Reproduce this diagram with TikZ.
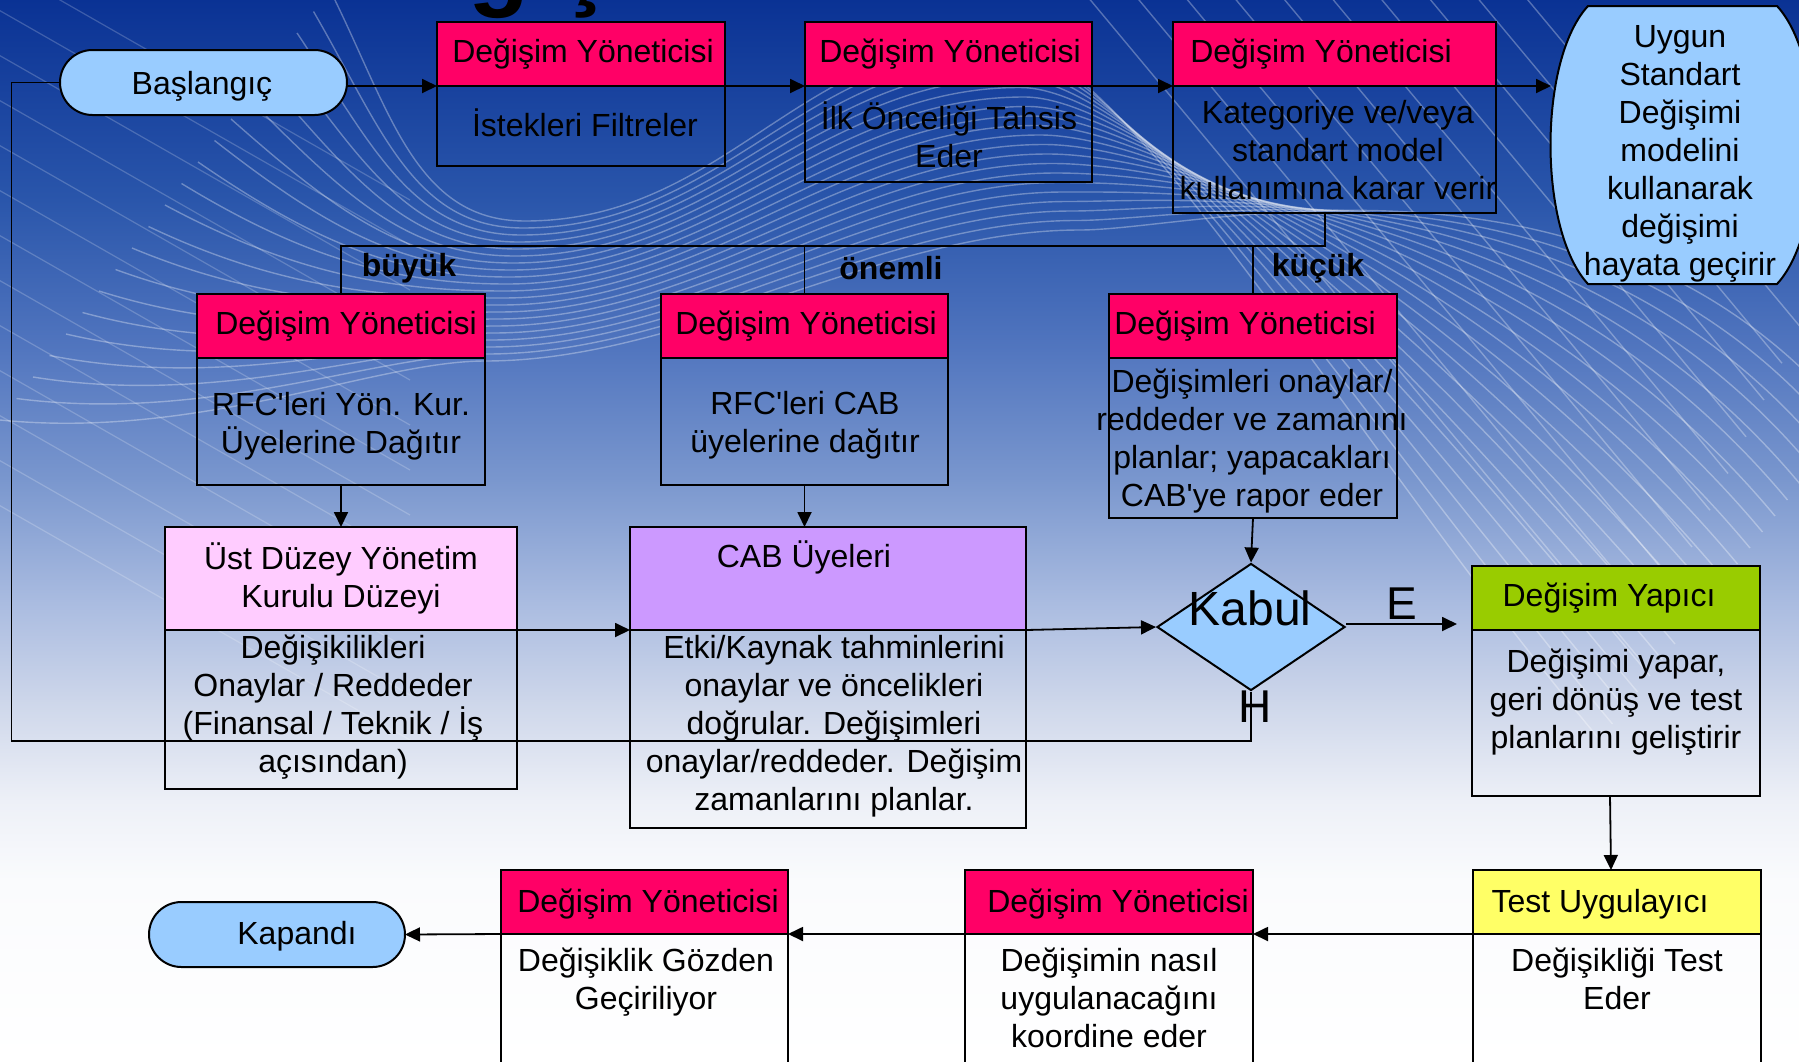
\documentclass[tikz,border=0pt]{standalone}
\usepackage{fontspec}
\setmainfont{Liberation Sans}
\usetikzlibrary{arrows.meta,fit,shapes.geometric,calc}

\definecolor{hdrred}{HTML}{FF0066}
\definecolor{termblue}{HTML}{99CCFF}
\definecolor{boardpink}{HTML}{FFCCFF}
\definecolor{cablilac}{HTML}{CC99FF}
\definecolor{makergreen}{HTML}{99CC00}
\definecolor{testyellow}{HTML}{FFFF66}
\definecolor{bgA}{HTML}{0A3294}
\definecolor{bgB}{HTML}{2A56AB}
\definecolor{bgC}{HTML}{5276BF}
\definecolor{bgD}{HTML}{7A97CE}
\definecolor{bgE}{HTML}{A9BBE0}
\definecolor{bgF}{HTML}{CDD6EA}
\definecolor{bgG}{HTML}{EDF0F7}
\definecolor{bgH}{HTML}{FAFBFD}

\newcommand{\apo}{\textquotesingle}

\tikzset{
  frame/.style={draw=black, line width=1pt, inner sep=0pt, outer sep=0pt},
  hdr/.style={frame, fill=hdrred},
  txt/.style={font=\fontsize{16pt}{19pt}\selectfont, align=center, inner sep=0pt, text=black},
  lbl/.style={font=\bfseries\fontsize{16pt}{19pt}\selectfont, inner sep=0pt, text=black},
  big/.style={font=\fontsize{24pt}{28pt}\selectfont, inner sep=0pt, text=black},
  link/.style={draw=black, line width=0.9pt},
  arr/.style={link, -{Triangle[length=7.5pt,width=7pt]}},
  wave/.style={draw=white, line width=0.7pt, opacity=0.32},
  ray/.style={draw=white, line width=0.6pt, opacity=0.2},
  streak/.style={draw=white, line width=0.7pt, opacity=0.3},
}

\begin{document}
\begin{tikzpicture}[x=0.5pt,y=-0.5pt]
\useasboundingbox (0,0) rectangle (1799,1061);
\begin{scope}
\clip (0,0) rectangle (1799,1061);

% sky gradient
\shade[top color=bgA, bottom color=bgB] (0,-1) rectangle (1799,201);
\shade[top color=bgB, bottom color=bgC] (0,200) rectangle (1799,351);
\shade[top color=bgC, bottom color=bgD] (0,350) rectangle (1799,481);
\shade[top color=bgD, bottom color=bgE] (0,480) rectangle (1799,601);
\shade[top color=bgE, bottom color=bgF] (0,600) rectangle (1799,701);
\shade[top color=bgF, bottom color=bgG] (0,700) rectangle (1799,801);
\shade[top color=bgG, bottom color=bgH] (0,800) rectangle (1799,881);
\shade[top color=bgH, bottom color=white] (0,880) rectangle (1799,1062);

% faint straight rays on the left
\foreach \k in {0,...,12}{
  \draw[ray] (-10,{-40+45*\k}) -- ++(420,240);
}

% ribbon of wavy lines
\foreach \i in {0,...,20}{
  \pgfmathsetmacro\t{\i/20}
  \pgfmathsetmacro\sx{330-330*\t}
  \pgfmathsetmacro\sy{-10+430*\t}
  \pgfmathsetmacro\tx{525-40*\t}
  \pgfmathsetmacro\ty{221+140*\t}
  \pgfmathsetmacro\cx{1000+80*\t}
  \pgfmathsetmacro\cy{40+190*\t}
  \pgfmathsetmacro\ex{1600+250*\t}
  \pgfmathsetmacro\ey{740-320*\t}
  \draw[wave] (\sx,\sy) .. controls ({\sx+60+140*\t},{\sy+120-100*\t}) and ({\tx-110},\ty) .. (\tx,\ty)
     .. controls ({\tx+200},\ty) and ({\cx-200},\cy) .. (\cx,\cy)
     .. controls ({\cx+120},\cy) and ({\ex-250},{\ey-300}) .. (\ex,\ey);
}

% straight diagonal streaks on the right
\foreach \k in {0,...,9}{
  \pgfmathsetmacro\xe{1800-18*\k}
  \pgfmathsetmacro\ye{(1960-\xe)/0.49}
  \draw[streak] ({\xe-(\ye+10)/1.2},-10) -- (\xe,\ye);
}

% heading, only its lowest strokes fall inside the frame
\node[font=\bfseries\fontsize{50pt}{60pt}\selectfont, anchor=base west, inner sep=0pt] (title) at (340,-3) {Değişim};

% terminators
\node[frame, fill=termblue, rounded corners=16.25pt, fit={(60,50) (347,115)}] (start) {};
\node[txt] (tStart) at (202,86) {Başlangıç};
\node[frame, fill=termblue, rounded corners=16.25pt, fit={(149,902) (405,967)}] (end) {};
\node[txt] (tEnd) at (297,936) {Kapandı};

% standard change terminator
\path[draw=black, line width=1pt, fill=termblue] (1588,6) -- (1777,6)
  .. controls (1827,60) and (1827,230) .. (1777,284) -- (1588,284)
  .. controls (1538,230) and (1538,60) .. (1588,6) -- cycle;
\node[txt] (tStd) at (1680,154) {Uygun\\Standart\\Değişimi\\modelini\\kullanarak\\değişimi\\hayata geçirir};
\coordinate (stdIn) at (1551,86);

% top row
\node[hdr, fit={(437,22) (725,86)}] (h1) {};
\node[frame, fit={(437,86) (725,166)}] (b1) {};
\node[hdr, fit={(805,22) (1092,86)}] (h2) {};
\node[frame, fit={(805,86) (1092,182)}] (b2) {};
\node[hdr, fit={(1173,22) (1496,86)}] (h3) {};
\node[frame, fit={(1173,86) (1496,213)}] (b3) {};
\node[txt] (th1) at (583,54) {Değişim Yöneticisi};
\node[txt] (tb1) at (585,123) {İstekleri Filtreler};
\node[txt] (th2) at (950,54) {Değişim Yöneticisi};
\node[txt] (tb2) at (949,135) {İlk Önceliği Tahsis\\Eder};
\node[txt] (th3) at (1321,54) {Değişim Yöneticisi};
\node[txt] (tb3) at (1338,150) {Kategoriye ve/veya\\standart model\\kullanımına karar verir};

% second row
\node[hdr, fit={(197,294) (485,358)}] (hA) {};
\node[frame, fit={(197,358) (485,485)}] (bA) {};
\node[hdr, fit={(661,294) (948,358)}] (hB) {};
\node[frame, fit={(661,358) (948,485)}] (bB) {};
\node[hdr, fit={(1109,294) (1397,358)}] (hE) {};
\node[frame, fit={(1109,358) (1397,518)}] (bE) {};
\node[txt] (thA) at (346,326) {Değişim Yöneticisi};
\node[txt] (tbA) at (341,426) {RFC\apo leri Yön. Kur.\\Üyelerine Dağıtır};
\node[txt] (thB) at (806,326) {Değişim Yöneticisi};
\node[txt] (tbB) at (805,425) {RFC\apo leri CAB\\üyelerine dağıtır};
\node[txt] (thE) at (1245,326) {Değişim Yöneticisi};
\node[txt] (tbE) at (1252,441) {Değişimleri onaylar/\\reddeder ve zamanını\\planlar; yapacakları\\CAB\apo ye rapor eder};

% third row
\node[frame, fill=boardpink, fit={(165,527) (517,630)}] (hC) {};
\node[frame, fit={(165,630) (517,789)}] (bC) {};
\node[frame, fill=cablilac, fit={(630,527) (1026,630)}] (hD) {};
\node[frame, fit={(630,630) (1026,828)}] (bD) {};
\node[frame, fill=makergreen, fit={(1472,566) (1760,630)}] (hF) {};
\node[frame, fit={(1472,630) (1760,796)}] (bF) {};
\node[diamond, draw=black, line width=1pt, fill=termblue, minimum width=94pt, minimum height=63.5pt, inner sep=0pt] (kabul) at (1251,627) {};
\node[txt] (thC) at (341,578) {Üst Düzey Yönetim\\Kurulu Düzeyi};
\node[txt] (tbC) at (333,707) {Değişikilikleri\\Onaylar / Reddeder\\(Finansal / Teknik / İş\\açısından)};
\node[txt] (thD) at (804,557) {CAB Üyeleri};
\node[txt] (tbD) at (834,726) {Etki/Kaynak tahminlerini\\onaylar ve öncelikleri\\doğrular. Değişimleri\\onaylar/reddeder. Değişim\\zamanlarını planlar.};
\node[txt] (thF) at (1609,598) {Değişim Yapıcı};
\node[txt] (tbF) at (1616,702) {Değişimi yapar,\\geri dönüş ve test\\planlarını geliştirir};

% bottom row
\node[frame, fill=testyellow, fit={(1473,870) (1761,934)}] (hG) {};
\node[frame, fit={(1473,934) (1761,1085)}] (bG) {};
\node[hdr, fit={(965,870) (1253,934)}] (hH) {};
\node[frame, fit={(965,934) (1253,1085)}] (bH) {};
\node[hdr, fit={(501,870) (788,934)}] (hI) {};
\node[frame, fit={(501,934) (788,1085)}] (bI) {};
\node[txt] (thG) at (1600,904) {Test Uygulayıcı};
\node[txt] (tbG) at (1617,979) {Değişikliği Test\\Eder};
\node[txt] (thH) at (1118,904) {Değişim Yöneticisi};
\node[txt] (tbH) at (1109,998) {Değişimin nasıl\\uygulanacağını\\koordine eder};
\node[txt] (thI) at (648,904) {Değişim Yöneticisi};
\node[txt] (tbI) at (646,982) {Değişiklik Gözden\\Geçiriliyor};

% main flow along the top
\draw[arr] (start.east |- h1.south) -- (h1.south west);
\draw[arr] (h1.south east) -- (h2.south west);
\draw[arr] (h2.south east) -- (h3.south west);
\draw[arr] (h3.south east) -- (stdIn);

% category split
\coordinate (split) at (1325,246);
\draw[link] (b3.south -| split) -- (split) -- (split -| hA.north) -- (hA.north);
\draw[link] (hB.north |- split) -- (hB.north);
\draw[link] (hE.north |- split) -- (hE.north);
\node[lbl] (lBig) at (409,268) {büyük};
\node[lbl] (lMid) at (891,268) {önemli};
\node[lbl] (lSmall) at (1318,268) {küçük};

% approval paths
\draw[arr] (bA.south) -- (hC.north);
\draw[arr] (bB.south) -- (bB.south |- hD.north);
\draw[arr] (bE.south) -- (kabul.north);
\draw[arr] (hC.south east) -- (hD.south west);
\draw[arr] (hD.south east) -- (kabul.west);
\coordinate (yesEnd) at (1457,624);
\draw[arr] (kabul.east |- yesEnd) -- (yesEnd);
\coordinate (loopCorner) at (11.5,741);
\draw[link] (kabul.south) |- (loopCorner) |- (start.west);
\node[big] (tKabul) at (1250,608) {Kabul};
\node[big, font=\fontsize{23pt}{27pt}\selectfont] (tYes) at (1402,604) {E};
\node[big, font=\fontsize{23pt}{27pt}\selectfont] (tNo) at (1255,707) {H};

% implementation and closure
\draw[arr] ([xshift=-3pt]bF.south) -- ([xshift=-3pt]hG.north);
\draw[arr] (hG.south west) -- (hH.south east);
\draw[arr] (hH.south west) -- (hI.south east);
\draw[arr] (hI.south west) -- (end.east);

\end{scope}
\end{tikzpicture}
\end{document}
